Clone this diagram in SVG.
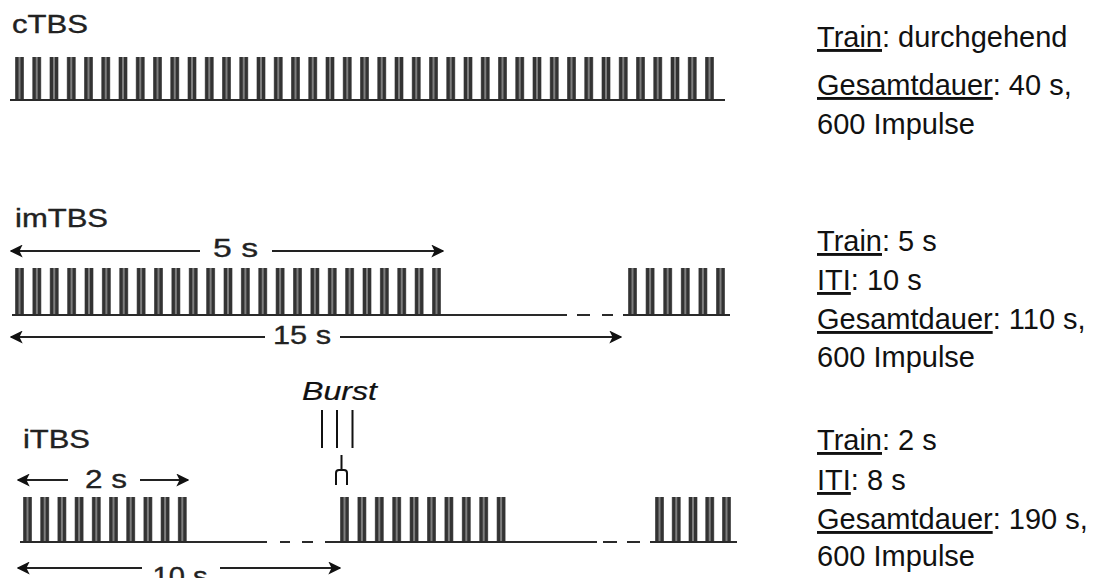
<svg xmlns="http://www.w3.org/2000/svg" xmlns:xlink="http://www.w3.org/1999/xlink" width="1115" height="578" viewBox="0 0 1115 578">
<style>
.lbl{font-family:"Liberation Sans",Arial,sans-serif;font-size:25px;fill:#222;stroke:#222;stroke-width:0.35}
.info{font-family:"Liberation Sans",Arial,sans-serif;font-size:29px;fill:#111}
.u{text-decoration:underline}
.base{stroke:#2a2a2a;stroke-width:2.2;fill:none}
.arr{stroke:#222;stroke-width:2;fill:none}
.tick{stroke:#111;stroke-width:2;fill:none}
</style>
<defs>
<marker id="ah" viewBox="0 0 10 10" refX="9" refY="5" markerUnits="userSpaceOnUse" markerWidth="13" markerHeight="13" orient="auto-start-reverse">
<path d="M0,0 L10,5 L0,10 L2.5,5 z" fill="#111"/>
</marker>
<g id="burst">
<rect x="0" y="0" width="9" height="1" fill="#7e7e7e"/>
<rect x="0.5" y="0" width="3" height="1" fill="#333"/>
<rect x="5.5" y="0" width="3" height="1" fill="#333"/>
</g>
</defs>
<rect width="1115" height="578" fill="#fff"/>

<g id="cTBS">
<text class="lbl" x="12" y="33" textLength="76" lengthAdjust="spacingAndGlyphs">cTBS</text>
<g id="cTBS-train">
<use xlink:href="#burst" transform="translate(15,57) scale(1,43)"/>
<use xlink:href="#burst" transform="translate(32.25,57) scale(1,43)"/>
<use xlink:href="#burst" transform="translate(49.5,57) scale(1,43)"/>
<use xlink:href="#burst" transform="translate(66.75,57) scale(1,43)"/>
<use xlink:href="#burst" transform="translate(84,57) scale(1,43)"/>
<use xlink:href="#burst" transform="translate(101.25,57) scale(1,43)"/>
<use xlink:href="#burst" transform="translate(118.5,57) scale(1,43)"/>
<use xlink:href="#burst" transform="translate(135.75,57) scale(1,43)"/>
<use xlink:href="#burst" transform="translate(153,57) scale(1,43)"/>
<use xlink:href="#burst" transform="translate(170.25,57) scale(1,43)"/>
<use xlink:href="#burst" transform="translate(187.5,57) scale(1,43)"/>
<use xlink:href="#burst" transform="translate(204.75,57) scale(1,43)"/>
<use xlink:href="#burst" transform="translate(222,57) scale(1,43)"/>
<use xlink:href="#burst" transform="translate(239.25,57) scale(1,43)"/>
<use xlink:href="#burst" transform="translate(256.5,57) scale(1,43)"/>
<use xlink:href="#burst" transform="translate(273.75,57) scale(1,43)"/>
<use xlink:href="#burst" transform="translate(291,57) scale(1,43)"/>
<use xlink:href="#burst" transform="translate(308.25,57) scale(1,43)"/>
<use xlink:href="#burst" transform="translate(325.5,57) scale(1,43)"/>
<use xlink:href="#burst" transform="translate(342.75,57) scale(1,43)"/>
<use xlink:href="#burst" transform="translate(360,57) scale(1,43)"/>
<use xlink:href="#burst" transform="translate(377.25,57) scale(1,43)"/>
<use xlink:href="#burst" transform="translate(394.5,57) scale(1,43)"/>
<use xlink:href="#burst" transform="translate(411.75,57) scale(1,43)"/>
<use xlink:href="#burst" transform="translate(429,57) scale(1,43)"/>
<use xlink:href="#burst" transform="translate(446.25,57) scale(1,43)"/>
<use xlink:href="#burst" transform="translate(463.5,57) scale(1,43)"/>
<use xlink:href="#burst" transform="translate(480.75,57) scale(1,43)"/>
<use xlink:href="#burst" transform="translate(498,57) scale(1,43)"/>
<use xlink:href="#burst" transform="translate(515.25,57) scale(1,43)"/>
<use xlink:href="#burst" transform="translate(532.5,57) scale(1,43)"/>
<use xlink:href="#burst" transform="translate(549.75,57) scale(1,43)"/>
<use xlink:href="#burst" transform="translate(567,57) scale(1,43)"/>
<use xlink:href="#burst" transform="translate(584.25,57) scale(1,43)"/>
<use xlink:href="#burst" transform="translate(601.5,57) scale(1,43)"/>
<use xlink:href="#burst" transform="translate(618.75,57) scale(1,43)"/>
<use xlink:href="#burst" transform="translate(636,57) scale(1,43)"/>
<use xlink:href="#burst" transform="translate(653.25,57) scale(1,43)"/>
<use xlink:href="#burst" transform="translate(670.5,57) scale(1,43)"/>
<use xlink:href="#burst" transform="translate(687.75,57) scale(1,43)"/>
<use xlink:href="#burst" transform="translate(705,57) scale(1,43)"/>
</g>
<path class="base" d="M10,100 H725"/>
</g>

<g id="imTBS">
<text class="lbl" x="15" y="227" textLength="93" lengthAdjust="spacingAndGlyphs">imTBS</text>
<g id="imTBS-train">
<use xlink:href="#burst" transform="translate(15,268) scale(1,47)"/>
<use xlink:href="#burst" transform="translate(32.375,268) scale(1,47)"/>
<use xlink:href="#burst" transform="translate(49.75,268) scale(1,47)"/>
<use xlink:href="#burst" transform="translate(67.125,268) scale(1,47)"/>
<use xlink:href="#burst" transform="translate(84.5,268) scale(1,47)"/>
<use xlink:href="#burst" transform="translate(101.875,268) scale(1,47)"/>
<use xlink:href="#burst" transform="translate(119.25,268) scale(1,47)"/>
<use xlink:href="#burst" transform="translate(136.625,268) scale(1,47)"/>
<use xlink:href="#burst" transform="translate(154,268) scale(1,47)"/>
<use xlink:href="#burst" transform="translate(171.375,268) scale(1,47)"/>
<use xlink:href="#burst" transform="translate(188.75,268) scale(1,47)"/>
<use xlink:href="#burst" transform="translate(206.125,268) scale(1,47)"/>
<use xlink:href="#burst" transform="translate(223.5,268) scale(1,47)"/>
<use xlink:href="#burst" transform="translate(240.875,268) scale(1,47)"/>
<use xlink:href="#burst" transform="translate(258.25,268) scale(1,47)"/>
<use xlink:href="#burst" transform="translate(275.625,268) scale(1,47)"/>
<use xlink:href="#burst" transform="translate(293,268) scale(1,47)"/>
<use xlink:href="#burst" transform="translate(310.375,268) scale(1,47)"/>
<use xlink:href="#burst" transform="translate(327.75,268) scale(1,47)"/>
<use xlink:href="#burst" transform="translate(345.125,268) scale(1,47)"/>
<use xlink:href="#burst" transform="translate(362.5,268) scale(1,47)"/>
<use xlink:href="#burst" transform="translate(379.875,268) scale(1,47)"/>
<use xlink:href="#burst" transform="translate(397.25,268) scale(1,47)"/>
<use xlink:href="#burst" transform="translate(414.625,268) scale(1,47)"/>
<use xlink:href="#burst" transform="translate(432,268) scale(1,47)"/>
<use xlink:href="#burst" transform="translate(628,268) scale(1,47)"/>
<use xlink:href="#burst" transform="translate(645.6,268) scale(1,47)"/>
<use xlink:href="#burst" transform="translate(663.2,268) scale(1,47)"/>
<use xlink:href="#burst" transform="translate(680.8,268) scale(1,47)"/>
<use xlink:href="#burst" transform="translate(698.4,268) scale(1,47)"/>
<use xlink:href="#burst" transform="translate(716,268) scale(1,47)"/>
</g>
<path class="base" d="M12,315 H567 M577,315 H590 M602,315 H613 M623,315 H730"/>
</g>

<g id="iTBS">
<text class="lbl" x="23" y="448" textLength="67" lengthAdjust="spacingAndGlyphs">iTBS</text>
<g id="iTBS-train">
<use xlink:href="#burst" transform="translate(23,497) scale(1,45)"/>
<use xlink:href="#burst" transform="translate(40.2,497) scale(1,45)"/>
<use xlink:href="#burst" transform="translate(57.4,497) scale(1,45)"/>
<use xlink:href="#burst" transform="translate(74.6,497) scale(1,45)"/>
<use xlink:href="#burst" transform="translate(91.8,497) scale(1,45)"/>
<use xlink:href="#burst" transform="translate(109,497) scale(1,45)"/>
<use xlink:href="#burst" transform="translate(126.2,497) scale(1,45)"/>
<use xlink:href="#burst" transform="translate(143.4,497) scale(1,45)"/>
<use xlink:href="#burst" transform="translate(160.6,497) scale(1,45)"/>
<use xlink:href="#burst" transform="translate(177.8,497) scale(1,45)"/>
<use xlink:href="#burst" transform="translate(340,497) scale(1,45)"/>
<use xlink:href="#burst" transform="translate(357.4,497) scale(1,45)"/>
<use xlink:href="#burst" transform="translate(374.8,497) scale(1,45)"/>
<use xlink:href="#burst" transform="translate(392.2,497) scale(1,45)"/>
<use xlink:href="#burst" transform="translate(409.6,497) scale(1,45)"/>
<use xlink:href="#burst" transform="translate(427,497) scale(1,45)"/>
<use xlink:href="#burst" transform="translate(444.4,497) scale(1,45)"/>
<use xlink:href="#burst" transform="translate(461.8,497) scale(1,45)"/>
<use xlink:href="#burst" transform="translate(479.2,497) scale(1,45)"/>
<use xlink:href="#burst" transform="translate(496.6,497) scale(1,45)"/>
<use xlink:href="#burst" transform="translate(655,497) scale(1,45)"/>
<use xlink:href="#burst" transform="translate(671.75,497) scale(1,45)"/>
<use xlink:href="#burst" transform="translate(688.5,497) scale(1,45)"/>
<use xlink:href="#burst" transform="translate(705.25,497) scale(1,45)"/>
<use xlink:href="#burst" transform="translate(722,497) scale(1,45)"/>
</g>
<path class="base" d="M20,542 H267 M280,542 H290 M302,542 H313 M325,542 H597 M603,542 H617 M627,542 H640 M650,542 H737"/>
</g>

<g id="burst-label">
<text class="lbl" x="302" y="400" textLength="75" lengthAdjust="spacingAndGlyphs" style="font-style:italic;fill:#111;stroke:#111;stroke-width:0.2">Burst</text>
<path class="tick" d="M322,410 V448 M337,410 V448 M352.5,410 V448"/>
<path class="tick" d="M341.5,455 V470 M336,485 V473 Q336,470 339,470 H344 Q347,470 347,473 V485" stroke-width="1.8"/>
</g>

<g id="connectors">
<path class="arr" d="M200,251 H11" marker-end="url(#ah)"/>
<path class="arr" d="M272,251 H443" marker-end="url(#ah)"/>
<path class="arr" d="M265,337 H11" marker-end="url(#ah)"/>
<path class="arr" d="M340,337 H621" marker-end="url(#ah)"/>
<path class="arr" d="M68,480 H18" marker-end="url(#ah)"/>
<path class="arr" d="M140,480 H188" marker-end="url(#ah)"/>
<path class="arr" d="M142,568 H18" marker-end="url(#ah)"/>
<path class="arr" d="M220,568 H340" marker-end="url(#ah)"/>
</g>

<g id="dim-labels">
<text class="lbl" x="235.5" y="257" text-anchor="middle" textLength="45" lengthAdjust="spacingAndGlyphs">5 s</text>
<text class="lbl" x="302" y="344" text-anchor="middle" textLength="58" lengthAdjust="spacingAndGlyphs">15 s</text>
<text class="lbl" x="106" y="488" text-anchor="middle" textLength="42" lengthAdjust="spacingAndGlyphs">2 s</text>
<text class="lbl" x="180" y="585" text-anchor="middle" textLength="55" lengthAdjust="spacingAndGlyphs">10 s</text>
</g>

<g id="info-cTBS">
<text class="info" x="817" y="47"><tspan class="u">Train</tspan>: durchgehend</text>
<text class="info" x="817" y="95"><tspan class="u">Gesamtdauer</tspan>: 40 s,</text>
<text class="info" x="817" y="134">600 Impulse</text>
</g>
<g id="info-imTBS">
<text class="info" x="817" y="251"><tspan class="u">Train</tspan>: 5 s</text>
<text class="info" x="817" y="290"><tspan class="u">ITI</tspan>: 10 s</text>
<text class="info" x="817" y="329"><tspan class="u">Gesamtdauer</tspan>: 110 s,</text>
<text class="info" x="817" y="367">600 Impulse</text>
</g>
<g id="info-iTBS">
<text class="info" x="817" y="450"><tspan class="u">Train</tspan>: 2 s</text>
<text class="info" x="817" y="490"><tspan class="u">ITI</tspan>: 8 s</text>
<text class="info" x="817" y="529"><tspan class="u">Gesamtdauer</tspan>: 190 s,</text>
<text class="info" x="817" y="566">600 Impulse</text>
</g>
</svg>
